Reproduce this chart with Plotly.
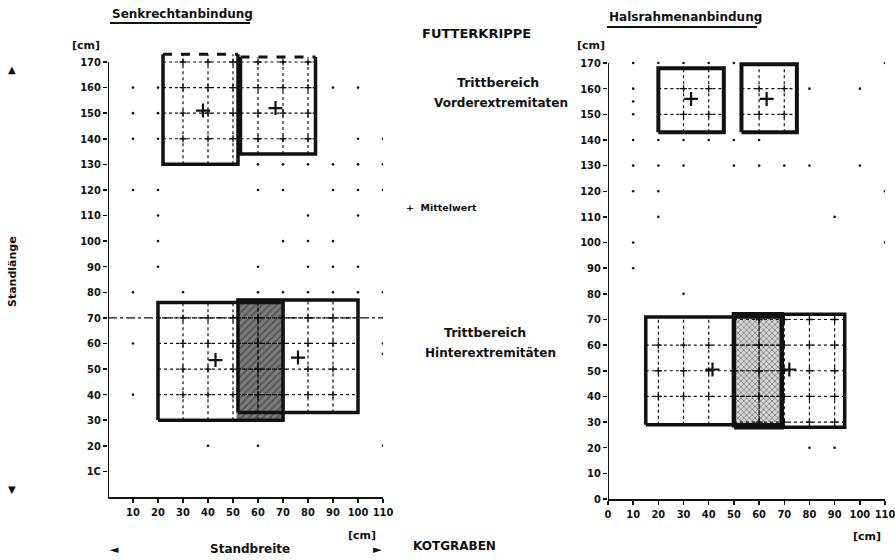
import plotly.graph_objects as go

W, H = 895, 560

# ---------------- data ----------------
# Left panel: Senkrechtanbindung
L_front_x0 = [22, 53]
L_front_x1 = [52, 83]
L_front_y0 = [130, 134]
L_front_y1 = [173, 172]
L_front_mean_x = [38, 67]
L_front_mean_y = [151, 152]

L_hind_x0 = [20, 52]
L_hind_x1 = [70, 100]
L_hind_y0 = [30, 33]
L_hind_y1 = [76, 77]
L_hind_mean_x = [43, 76]
L_hind_mean_y = [53.5, 54.5]

# Right panel: Halsrahmenanbindung
R_front_x0 = [20, 53]
R_front_x1 = [46, 75]
R_front_y0 = [143, 143]
R_front_y1 = [168, 169.5]
R_front_mean_x = [33, 63]
R_front_mean_y = [156, 156]

R_hind_x0 = [15, 50]
R_hind_x1 = [69, 94]
R_hind_y0 = [29, 28]
R_hind_y1 = [71, 72]
R_hind_mean_x = [41.5, 72]
R_hind_mean_y = [50.5, 50.5]

# background dot grid (as visible in the picture)
L_dots_x = [10, 20, 90, 100, 10, 20, 10, 20, 100, 110, 60, 70, 80, 90, 100, 110,
            10, 20, 60, 70, 90, 100, 110, 20, 80, 100, 20, 70, 80, 90,
            20, 60, 80, 90, 100, 10, 30, 60, 70, 80, 90, 100, 110,
            10, 110, 110, 10, 40, 60, 110]
L_dots_y = [160, 160, 160, 160, 150, 150, 140, 140, 140, 140, 130, 130, 130, 130, 130, 130,
            120, 120, 120, 120, 120, 120, 120, 110, 110, 110, 100, 100, 100, 100,
            90, 90, 90, 90, 90, 80, 80, 80, 80, 80, 80, 80, 80,
            60, 60, 56, 40, 20, 20, 20]
R_dots_x = [10, 20, 30, 40, 50, 110, 10, 80, 100, 10, 10,
            10, 20, 30, 40, 50, 60, 10, 20, 30, 50, 60, 70, 80, 100,
            10, 20, 110, 20, 90, 10, 110, 10, 30, 80, 90]
R_dots_y = [170, 170, 170, 170, 170, 170, 160, 160, 160, 155, 150,
            140, 140, 140, 140, 140, 140, 130, 130, 130, 130, 130, 130, 130, 130,
            120, 120, 120, 110, 110, 100, 100, 90, 80, 20, 20]

L_xticks = [10, 20, 30, 40, 50, 60, 70, 80, 90, 100, 110]
L_yticks = [10, 20, 30, 40, 50, 60, 70, 80, 90, 100, 110, 120, 130, 140, 150, 160, 170]
L_ytick_text = ["1C", "20", "30", "40", "50", "60", "70", "80", "90", "100", "110",
                "120", "130", "140", "150", "160", "170"]
R_xticks = [0, 10, 20, 30, 40, 50, 60, 70, 80, 90, 100, 110]
R_yticks = [0, 10, 20, 30, 40, 50, 60, 70, 80, 90, 100, 110, 120, 130, 140, 150, 160, 170]
L_line70 = 70

# ---------------- helpers ----------------
FONT = "DejaVu Sans"
TICKFONT = "DejaVu Sans Condensed, DejaVu Sans"
BLACK = "#111111"


def rect_path(x0, x1, y0, y1):
    return [x0, x1, x1, x0, x0], [y0, y0, y1, y1, y0]


def grid_inside(x0s, x1s, y0s, y1s):
    gx, gy, cx, cy = [], [], [], []
    for x0, x1, y0, y1 in zip(x0s, x1s, y0s, y1s):
        xs = [v for v in range(0, 120, 10) if x0 + 1 < v < x1 - 1]
        ys = [v for v in range(0, 180, 10) if y0 + 1 < v < y1 - 1]
        for v in xs:
            gx += [v, v, None]
            gy += [y0, y1, None]
        for v in ys:
            gx += [x0, x1, None]
            gy += [v, v, None]
        for a in xs:
            for b in ys:
                cx.append(a)
                cy.append(b)
    return gx, gy, cx, cy


fig = go.Figure()


def add_panel(xa, ya, dots_x, dots_y, fx0, fx1, fy0, fy1, fmx, fmy,
              hx0, hx1, hy0, hy1, hmx, hmy, dashed_front_top, dark_overlap):
    # dots
    fig.add_trace(go.Scatter(x=dots_x, y=dots_y, mode="markers", xaxis=xa, yaxis=ya,
                             marker=dict(size=2.6, color=BLACK), hoverinfo="skip"))
    # overlap of hind-limb areas
    ox0 = max(hx0)
    ox1 = min(hx1)
    oy0 = min(hy0)
    oy1 = max(hy1)
    px_, py_ = rect_path(ox0, ox1, oy0, oy1)
    if dark_overlap:
        fp = dict(shape="/", bgcolor="#7c7c7c", fgcolor="#303030", size=5, solidity=0.4)
        lc, lw = "rgba(100,100,100,0.9)", 3
    else:
        fp = dict(shape="x", bgcolor="#d6d6d6", fgcolor="#333333", size=4, solidity=0.4)
        lc, lw = BLACK, 4.5
    fig.add_trace(go.Scatter(x=px_, y=py_, mode="lines", fill="toself", xaxis=xa, yaxis=ya,
                             fillcolor="#7c7c7c" if dark_overlap else "#d6d6d6",
                             fillpattern=fp, line=dict(color=lc, width=lw), hoverinfo="skip"))
    # inner dotted grids
    for x0s, x1s, y0s, y1s in [(fx0, fx1, fy0, fy1), (hx0, hx1, hy0, hy1)]:
        gx, gy, cx, cy = grid_inside(x0s, x1s, y0s, y1s)
        fig.add_trace(go.Scatter(x=gx, y=gy, mode="lines", xaxis=xa, yaxis=ya,
                                 line=dict(color=BLACK, width=1.2, dash="dot"), hoverinfo="skip"))
        fig.add_trace(go.Scatter(x=cx, y=cy, mode="markers", xaxis=xa, yaxis=ya,
                                 marker=dict(symbol="cross-thin", size=5,
                                             line=dict(color=BLACK, width=1.3)),
                                 hoverinfo="skip"))
    # front-limb borders
    for x0, x1, y0, y1 in zip(fx0, fx1, fy0, fy1):
        if dashed_front_top:
            fig.add_trace(go.Scatter(x=[x0, x0, x1, x1], y=[y1, y0, y0, y1], mode="lines",
                                     xaxis=xa, yaxis=ya, line=dict(color=BLACK, width=3.5),
                                     hoverinfo="skip"))
            fig.add_trace(go.Scatter(x=[x0, x1], y=[y1, y1], mode="lines", xaxis=xa, yaxis=ya,
                                     line=dict(color=BLACK, width=3, dash="dash"),
                                     hoverinfo="skip"))
        else:
            rx, ry = rect_path(x0, x1, y0, y1)
            fig.add_trace(go.Scatter(x=rx, y=ry, mode="lines", xaxis=xa, yaxis=ya,
                                     line=dict(color=BLACK, width=4), hoverinfo="skip"))
    # hind-limb borders
    for x0, x1, y0, y1 in zip(hx0, hx1, hy0, hy1):
        rx, ry = rect_path(x0, x1, y0, y1)
        fig.add_trace(go.Scatter(x=rx, y=ry, mode="lines", xaxis=xa, yaxis=ya,
                                 line=dict(color=BLACK, width=3.5), hoverinfo="skip"))
    # means
    fig.add_trace(go.Scatter(x=fmx + hmx, y=fmy + hmy, mode="markers", xaxis=xa, yaxis=ya,
                             marker=dict(symbol="cross-thin", size=10,
                                         line=dict(color=BLACK, width=2.2)),
                             hoverinfo="skip"))


# dash-dot line at 70 cm on left panel
fig.add_trace(go.Scatter(x=[0, 110], y=[L_line70, L_line70], mode="lines", xaxis="x", yaxis="y",
                         line=dict(color=BLACK, width=1.2, dash="dashdot"), hoverinfo="skip"))

add_panel("x", "y", L_dots_x, L_dots_y, L_front_x0, L_front_x1, L_front_y0, L_front_y1,
          L_front_mean_x, L_front_mean_y, L_hind_x0, L_hind_x1, L_hind_y0, L_hind_y1,
          L_hind_mean_x, L_hind_mean_y, True, True)
add_panel("x2", "y2", R_dots_x, R_dots_y, R_front_x0, R_front_x1, R_front_y0, R_front_y1,
          R_front_mean_x, R_front_mean_y, R_hind_x0, R_hind_x1, R_hind_y0, R_hind_y1,
          R_hind_mean_x, R_hind_mean_y, False, False)


def px(x):
    return x / W


def py(y):
    return 1 - y / H


tickfont = dict(family=TICKFONT, size=11, color=BLACK, weight="bold")
axis_common = dict(showgrid=False, zeroline=False, ticks="outside", ticklen=4, tickwidth=1.5,
                   tickcolor=BLACK, tickfont=tickfont, fixedrange=True, automargin=False,
                   tickangle=0, ticklabeloverflow="allow")

fig.update_layout(
    width=W, height=H, margin=dict(l=0, r=0, t=0, b=0, autoexpand=False),
    paper_bgcolor="white", plot_bgcolor="white", showlegend=False,
    xaxis=dict(domain=[px(108), px(383)], range=[0, 110], tickvals=L_xticks,
               showline=True, linewidth=2, linecolor=BLACK, anchor="y", **axis_common),
    yaxis=dict(domain=[py(497), py(49.2)], range=[0, 175], tickvals=L_yticks,
               ticktext=L_ytick_text, showline=False, anchor="x", **axis_common),
    xaxis2=dict(domain=[px(608), px(885)], range=[0, 110], tickvals=R_xticks,
                showline=True, linewidth=2, linecolor=BLACK, anchor="y2", **axis_common),
    yaxis2=dict(domain=[py(499), py(50.2)], range=[0, 175], tickvals=R_yticks,
                showline=False, anchor="x2", **axis_common),
)

# y axis lines only up to 170
fig.add_shape(type="line", xref="x", yref="y", x0=0, x1=0, y0=0, y1=170,
              line=dict(color=BLACK, width=2))
fig.add_shape(type="line", xref="x2", yref="y2", x0=0, x1=0, y0=0, y1=170,
              line=dict(color=BLACK, width=2))


def txt(text, x, y, size=11, xanchor="center", bold=False, angle=0):
    fig.add_annotation(text=("<b>%s</b>" % text) if bold else text, x=px(x), y=py(y),
                       xref="paper", yref="paper", showarrow=False, xanchor=xanchor,
                       yanchor="middle", textangle=angle,
                       font=dict(family=FONT, size=size, color=BLACK))


txt("Senkrechtanbindung", 110, 14, size=12, xanchor="left", bold=True)
txt("Halsrahmenanbindung", 607, 17, size=12, xanchor="left", bold=True)
fig.add_shape(type="line", xref="paper", yref="paper", x0=px(110), x1=px(250), y0=py(23),
              y1=py(23), line=dict(color=BLACK, width=2))
fig.add_shape(type="line", xref="paper", yref="paper", x0=px(607), x1=px(757), y0=py(27),
              y1=py(27), line=dict(color=BLACK, width=2))

txt("FUTTERKRIPPE", 476, 33, size=13, bold=True)
txt("Trittbereich", 455, 82, size=12.5, xanchor="left", bold=True)
txt("Vorderextremitaten", 432, 103, size=12, xanchor="left", bold=True)
txt("+  Mittelwert", 404, 207, size=9.5, xanchor="left", bold=True)
txt("Trittbereich", 442, 332, size=12.5, xanchor="left", bold=True)
txt("Hinterextremitäten", 423, 353, size=12, xanchor="left", bold=True)
txt("KOTGRABEN", 455, 546, size=12, bold=True)

txt("[cm]", 86, 45, size=11, bold=True)
txt("[cm]", 591, 45, size=11, bold=True)
txt("[cm]", 362, 535, size=11, bold=True)
txt("[cm]", 867, 536, size=11, bold=True)

txt("Standbreite", 250, 549, size=12, bold=True)
txt("◄", 114, 549, size=11)
txt("►", 377, 549, size=11)
txt("Standlänge", 12, 272, size=11, bold=True, angle=-90)
txt("▲", 12, 69, size=10)
txt("▼", 12, 489, size=10)

fig.write_html("out.html", config={"displayModeBar": False, "staticPlot": True},
               post_script="document.body.style.margin='0px';"
                           "document.body.style.padding='0px';"
                           "document.body.style.overflow='hidden';")
